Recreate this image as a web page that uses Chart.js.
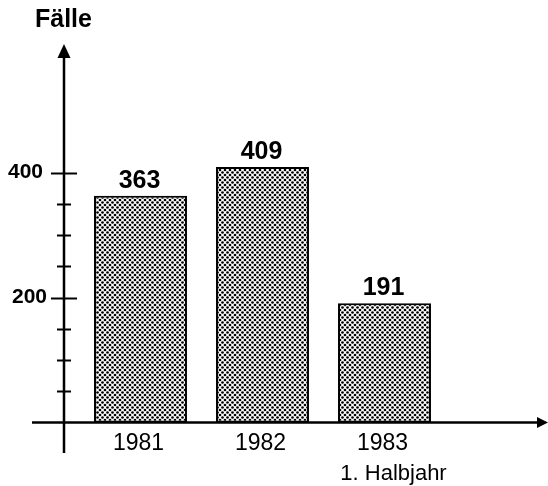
<!DOCTYPE html>
<html>
<head>
<meta charset="utf-8">
<script src="https://cdn.jsdelivr.net/npm/chart.js@4/dist/chart.umd.min.js"></script>
<style>
  html, body { margin: 0; padding: 0; background: #fff; }
  #chart { display: block; }
</style>
</head>
<body>
<canvas id="chart" width="548" height="486"></canvas>
<script>
const years = ["1981", "1982", "1983"];
const subLabels = ["", "", "1. Halbjahr"];
const cases = [363, 409, 191];
const tickValues = [50, 100, 150, 200, 250, 300, 350, 400];
const labeledTicks = [200, 400];
const axisTitle = "Fälle";

// dotted raster fill like the print
function dotPattern() {
  const c = document.createElement("canvas");
  c.width = 5;
  c.height = 5;
  const g = c.getContext("2d");
  g.fillStyle = "#fff";
  g.fillRect(0, 0, 5, 5);
  g.fillStyle = "#000";
  [[0, 0], [5, 0], [0, 5], [5, 5], [2.5, 2.5]].forEach(([x, y]) => {
    g.beginPath();
    g.arc(x, y, 1.35, 0, Math.PI * 2);
    g.fill();
  });
  return g.createPattern(c, "repeat");
}

const FONT = "'Liberation Sans', Arial, sans-serif";

const axesPlugin = {
  id: "axes",
  afterDatasetsDraw(chart) {
    const ctx = chart.ctx;
    const y = chart.scales.y;
    const x = chart.scales.x;
    const x0 = 64;
    const y0 = y.getPixelForValue(0);
    ctx.save();
    ctx.strokeStyle = "#000";
    ctx.fillStyle = "#000";
    ctx.lineWidth = 2.5;

    // y axis with arrow
    ctx.beginPath();
    ctx.moveTo(x0, 453);
    ctx.lineTo(x0, 56);
    ctx.stroke();
    ctx.beginPath();
    ctx.moveTo(x0, 44);
    ctx.lineTo(x0 - 6.5, 58);
    ctx.lineTo(x0 + 6.5, 58);
    ctx.closePath();
    ctx.fill();

    // x axis with arrow
    ctx.beginPath();
    ctx.moveTo(32, y0);
    ctx.lineTo(540, y0);
    ctx.stroke();
    ctx.beginPath();
    ctx.moveTo(548, y0);
    ctx.lineTo(537, y0 - 5.5);
    ctx.lineTo(537, y0 + 5.5);
    ctx.closePath();
    ctx.fill();

    // tick marks and labels
    ctx.lineWidth = 2;
    ctx.font = "bold 21px " + FONT;
    ctx.textAlign = "right";
    ctx.textBaseline = "alphabetic";
    tickValues.forEach(v => {
      const py = Math.round(y.getPixelForValue(v)) + 0.5;
      const major = labeledTicks.includes(v);
      ctx.beginPath();
      ctx.moveTo(major ? 51 : 57, py);
      ctx.lineTo(major ? 77 : 71, py);
      ctx.stroke();
      if (major) ctx.fillText(String(v), v === 400 ? 43 : 47, py + 4);
    });

    // title
    ctx.textAlign = "left";
    ctx.font = "bold 25px " + FONT;
    ctx.fillText(axisTitle, 35, 27);

    // value labels above bars
    const meta = chart.getDatasetMeta(0);
    ctx.textAlign = "center";
    meta.data.forEach((bar, i) => {
      ctx.fillText(String(cases[i]), bar.x - 1, bar.y - 8);
    });

    // category labels
    years.forEach((lab, i) => {
      const px = x.getPixelForValue(i);
      ctx.font = "23px " + FONT;
      ctx.fillText(lab, px - 2, 450);
      if (subLabels[i]) {
        ctx.font = "22px " + FONT;
        ctx.fillText(subLabels[i], px + 9, 480);
      }
    });
    ctx.restore();
  }
};

new Chart(document.getElementById("chart"), {
  type: "bar",
  data: {
    labels: years,
    datasets: [{
      data: cases,
      backgroundColor: dotPattern(),
      borderColor: "#000",
      borderWidth: 2,
      borderSkipped: false,
      categoryPercentage: 1,
      barPercentage: 0.762
    }]
  },
  options: {
    responsive: false,
    animation: false,
    layout: { padding: { left: 79.5, right: 102.5, top: 47.5, bottom: 63.5 } },
    plugins: { legend: { display: false }, tooltip: { enabled: false } },
    scales: {
      x: { display: false },
      y: { display: false, min: 0, max: 600 }
    }
  },
  plugins: [axesPlugin]
});
</script>
</body>
</html>
